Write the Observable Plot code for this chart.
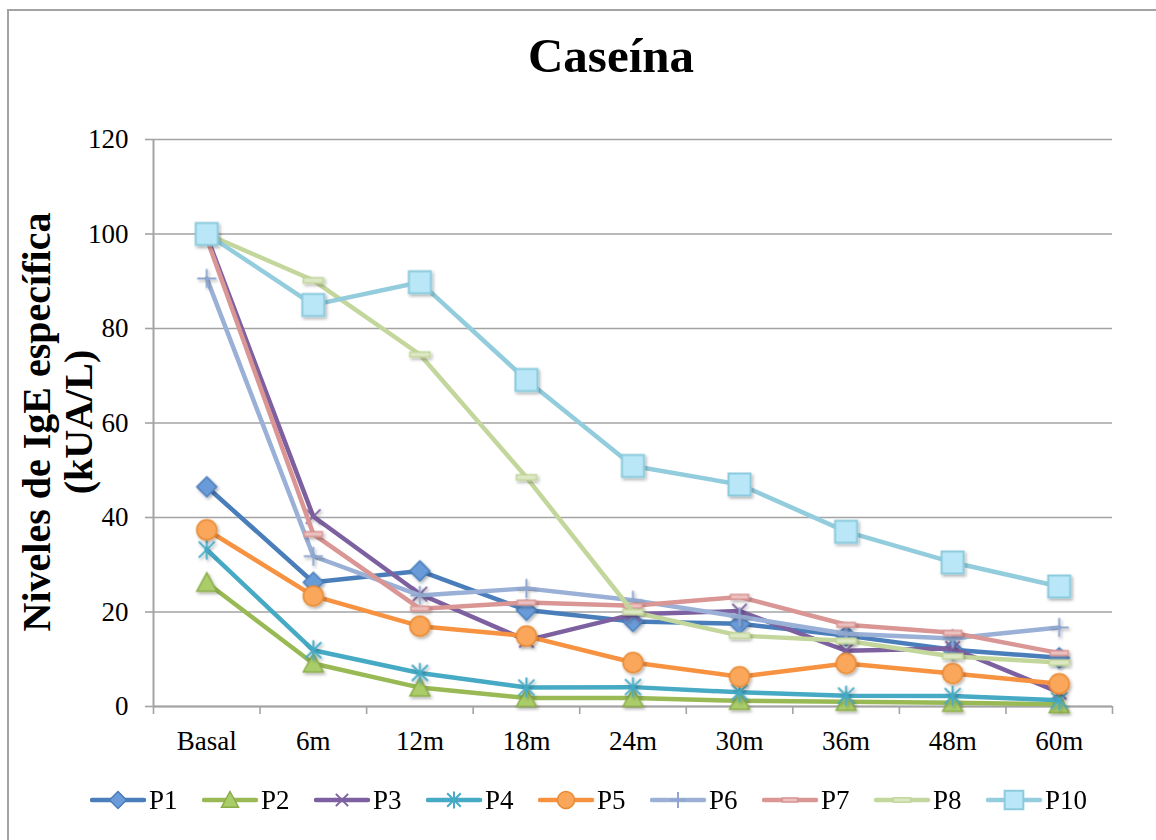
<!DOCTYPE html>
<html><head><meta charset="utf-8">
<script src="https://cdn.jsdelivr.net/npm/d3@7"></script>
<script src="https://cdn.jsdelivr.net/npm/@observablehq/plot@0.6"></script>
<style>
body{margin:0;background:#fff;font-family:"Liberation Serif","Times New Roman",serif;}
#wrap{position:relative;width:1156px;height:840px;overflow:hidden;background:#fff;}
#border{position:absolute;left:7px;top:9px;width:1200px;height:900px;border-left:2px solid #a3a3a3;border-top:2px solid #a3a3a3;box-sizing:border-box;}
#title{position:absolute;left:0;width:1222px;top:31px;line-height:49px;text-align:center;font-weight:bold;font-size:49px;color:#000;}
#chart{position:absolute;left:0;top:100px;}
#ylabel{position:absolute;width:520px;height:84px;left:-202px;top:380px;transform:rotate(-90deg);transform-origin:center;text-align:center;font-weight:bold;font-size:40px;line-height:42px;color:#000;}
#legend{position:absolute;left:0;top:0;width:1156px;height:840px;pointer-events:none;}
.item{position:absolute;top:785px;height:30px;}
.item svg{position:absolute;left:0;top:0;}
.item span{position:absolute;left:59px;top:0;font-size:27px;line-height:30px;white-space:nowrap;color:#000;}
</style></head>
<body>
<div id="wrap">
  <div id="border"></div>
  <div id="title">Caseína</div>
  <div id="chart"></div>
  <div id="ylabel">Niveles de IgE específica<br>(kUA/L)</div>
  <div id="legend"></div>
</div>
<script>
// ---- data ----
const categories = ["Basal","6m","12m","18m","24m","30m","36m","48m","60m"];
const yTicks = [0,20,40,60,80,100,120];
const seriesNames = ["P1","P2","P3","P4","P5","P6","P7","P8","P10"];
const P1  = [46.5, 26.3, 28.7, 20.4, 18.0, 17.5, 15.0, 12.0, 10.3];
const P2  = [26.2, 9.1, 4.0, 1.8, 1.8, 1.2, 1.0, 0.8, 0.5];
const P3  = [99.5, 40.2, 23.8, 14.0, 19.5, 20.2, 11.8, 12.3, 3.0];
const P4  = [33.2, 11.9, 7.1, 4.0, 4.1, 3.0, 2.3, 2.2, 1.3];
const P5  = [37.4, 23.4, 17.0, 14.9, 9.3, 6.3, 9.1, 7.0, 4.8];
const P6  = [90.6, 31.8, 23.5, 25.0, 22.5, 19.0, 15.4, 14.4, 16.7];
const P7  = [99.0, 36.5, 20.7, 22.0, 21.3, 23.2, 17.3, 15.6, 11.3];
const P8  = [100, 90.2, 74.5, 48.5, 20.0, 15.0, 13.9, 10.6, 9.3];
const P10 = [100, 85.0, 89.8, 69.1, 50.9, 47.0, 37.0, 30.5, 25.4];
const seriesValues = [P1,P2,P3,P4,P5,P6,P7,P8,P10];

// ---- styles ----
const lineColors = ["#4a7ebb","#98b954","#7d60a0","#46aac5","#f69240","#9ab0d6","#d99694","#c3d69b","#93cddd"];
const markFill   = ["#6b9bd9","#aacd6a","none","none","#faa75c","none","#ebc1c0","#dce8c4","#b9e7f7"];
const markStroke = ["#4a7ebb","#8aac48","#7d60a0","#46aac5","#e88a33","#8fa6cf","#d99694","#c3d69b","#8ccbdd"];
const markSW     = [1.5,1.5,2,2,1.5,2,1.5,1.5,2];

const hr = s => Math.sqrt(s/Math.PI);
const sym = {
  diamond:{draw(c,s){const h=hr(s);c.moveTo(0,-h);c.lineTo(h,0);c.lineTo(0,h);c.lineTo(-h,0);c.closePath();}},
  triangle:{draw(c,s){const h=hr(s);c.moveTo(0,-h);c.lineTo(h,h*0.85);c.lineTo(-h,h*0.85);c.closePath();}},
  times:{draw(c,s){const h=hr(s)*0.8;c.moveTo(-h,-h);c.lineTo(h,h);c.moveTo(h,-h);c.lineTo(-h,h);}},
  asterisk:{draw(c,s){const h=hr(s)*0.8;c.moveTo(-h,-h);c.lineTo(h,h);c.moveTo(h,-h);c.lineTo(-h,h);c.moveTo(0,-h*1.25);c.lineTo(0,h*1.25);}},
  circle:{draw(c,s){const h=hr(s);c.moveTo(h,0);c.arc(0,0,h,0,2*Math.PI);c.closePath();}},
  plus:{draw(c,s){const h=hr(s);c.moveTo(-h,0);c.lineTo(h,0);c.moveTo(0,-h);c.lineTo(0,h);}},
  dash:{draw(c,s){const h=hr(s);c.rect(-h,-h*0.26,2*h,h*0.52);}},
  square:{draw(c,s){const h=hr(s);c.rect(-h,-h,2*h,2*h);}}
};
const markSym = [sym.diamond,sym.triangle,sym.times,sym.asterisk,sym.circle,sym.plus,sym.dash,sym.dash,sym.square];
const markR   = [10,10,9,10,10,9.5,9,10,11];

const rows = seriesNames.flatMap((s,k)=>seriesValues[k].map((v,i)=>({s,k,i,v})));
const boundaries = d3.range(categories.length+1).map(i=>i-0.5);

const marks = [
  Plot.gridY({ticks:yTicks, stroke:"#a3a3a3", strokeOpacity:1, strokeWidth:1.6}),
  Plot.axisY({ticks:yTicks, tickSize:8, tickPadding:17, stroke:"#a3a3a3", strokeWidth:1.6, fill:"#000", fontSize:27, label:null}),
  Plot.axisX({ticks:boundaries, tickSize:8, tickFormat:()=>"", stroke:"#a3a3a3", strokeWidth:1.6, label:null}),
  Plot.axisX({ticks:d3.range(categories.length), tickSize:0, tickPadding:24, tickFormat:i=>categories[i], fill:"#000", fontSize:27, label:null}),
  Plot.ruleX([-0.5], {stroke:"#a3a3a3", strokeWidth:2}),
  Plot.ruleY([0], {stroke:"#a3a3a3", strokeWidth:2})
];
seriesNames.forEach((s,k)=>{
  const d = rows.filter(r=>r.k===k);
  marks.push(Plot.line(d,{x:"i",y:"v",stroke:lineColors[k],strokeWidth:4.5,strokeLinejoin:"round",strokeLinecap:"round",curve:"linear"}));
  marks.push(Plot.dot(d,{x:"i",y:"v",symbol:()=>markSym[k],r:markR[k],fill:markFill[k],stroke:markStroke[k],strokeWidth:markSW[k],fillOpacity:1,className:"mk"}));
});

const chart = Plot.plot({
  width:1156, height:660,
  marginLeft:153, marginRight:44, marginTop:39, marginBottom:54,
  style:{fontFamily:"'Liberation Serif','Times New Roman',serif", background:"transparent", overflow:"visible"},
  x:{type:"linear", domain:[-0.5, categories.length-0.5], axis:null},
  y:{type:"linear", domain:[0,120], axis:null},
  symbol:{type:"identity"},
  marks
});
document.getElementById("chart").appendChild(chart);

// soft shadow under markers
const svg = d3.select(chart);
const defs = svg.insert("defs",":first-child");
const f = defs.append("filter").attr("id","shd").attr("x","-50%").attr("y","-50%").attr("width","200%").attr("height","200%");
f.append("feDropShadow").attr("dx",1.5).attr("dy",2).attr("stdDeviation",1.5).attr("flood-color","#000").attr("flood-opacity",0.3);
svg.selectAll("g[aria-label='dot']").attr("filter","url(#shd)");

// legend
const lg = d3.select("#legend");
seriesNames.forEach((s,k)=>{
  const it = lg.append("div").attr("class","item").style("left",(90+112*k)+"px");
  const sv = it.append("svg").attr("width",60).attr("height",30);
  sv.append("line").attr("x1",2).attr("x2",54).attr("y1",15).attr("y2",15)
    .attr("stroke",lineColors[k]).attr("stroke-width",4.5).attr("stroke-linecap","round");
  const p = d3.path();
  const rr = markR[k]*0.85;
  markSym[k].draw(p, Math.PI*rr*rr);
  sv.append("path").attr("d",p.toString()).attr("transform","translate(28,15)")
    .attr("fill",markFill[k]).attr("stroke",markStroke[k]).attr("stroke-width",markSW[k]);
  it.append("span").text(s);
});
</script>
</body></html>
